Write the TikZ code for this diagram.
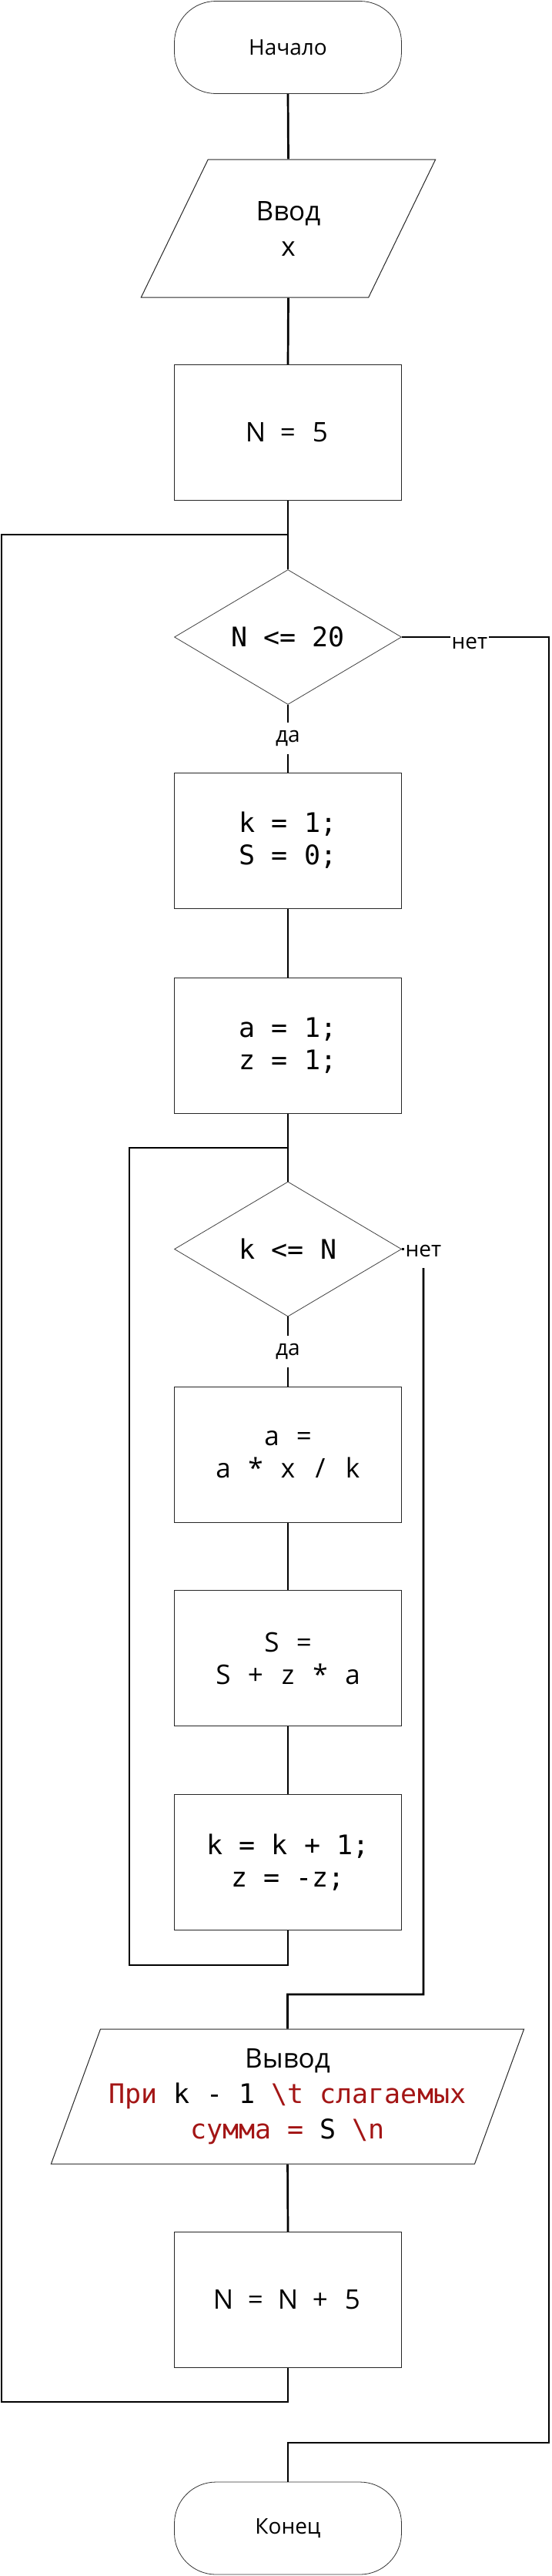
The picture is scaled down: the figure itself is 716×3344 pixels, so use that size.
\documentclass[tikz,border=0pt]{standalone}
\usepackage{fontspec}
\setmainfont{Open Sans}
\newfontfamily\codefont{DejaVu Sans Mono}
\usetikzlibrary{shapes.geometric}
\definecolor{strred}{HTML}{A31515}

% sans letters set on a fixed grid
\newcommand\gridtext[1]{\gridloop#1\relax}
\def\gridloop#1{\ifx#1\relax\else\makebox[21pt]{#1}\expandafter\gridloop\fi}

\tikzset{
  flow/.style={line width=2.7pt, black},
  term/.style={draw=black!80, line width=0.8pt, rounded corners=54pt,
    minimum width=295pt, minimum height=120pt, font=\fontsize{28}{34}\selectfont},
  proc/.style={draw=black!85, line width=1pt, minimum width=295pt,
    minimum height=176pt, align=center, font=\fontsize{35}{42}\selectfont},
  code/.style={font=\codefont\fontsize{35}{42}\selectfont},
  cond/.style={diamond, draw=black!75, line width=0.8pt, aspect=1.7,
    minimum width=295pt, minimum height=175pt, inner sep=0pt,
    font=\codefont\fontsize{35}{42}\selectfont},
  io/.style={trapezium, trapezium left angle=63.8, trapezium right angle=116.2,
    trapezium stretches=true, draw=black!85, line width=1pt, inner sep=0pt,
    align=center, font=\fontsize{35}{46}\selectfont},
  lbl/.style={fill=white, inner xsep=2pt, inner ysep=2pt, font=\fontsize{28}{34}\selectfont},
}

\begin{document}
\begin{tikzpicture}[x=1pt, y=-1pt]
  \useasboundingbox (0,0) rectangle (716,3344);

  \node[term] (start) at (374,61.5) {Начало};
  \node[io, minimum width=383pt, minimum height=179pt] (inp) at (374.5,296.5) {Ввод\\x};
  \node[proc] (n5) at (374,561.5) {\gridtext{N~=~5}};
  \node[cond] (dN) at (374,827) {N <= 20};
  \node[proc, code] (k1) at (374,1091) {k = 1;\\S = 0;};
  \node[proc, code] (a1) at (374,1357.5) {a = 1;\\z = 1;};
  \node[cond] (dk) at (374,1621.5) {k <= N};
  \node[proc] (ax) at (374,1888) {\gridtext{a~=}\\\gridtext{a~*~x~/~k}};
  \node[proc] (sz) at (374,2152.5) {\gridtext{S~=}\\\gridtext{S~+~z~*~a}};
  \node[proc, code] (kk) at (374,2417.5) {k = k + 1;\\z = -z;};
  \node[io, minimum width=619pt, minimum height=175pt] (out) at (373.5,2721.5)
    {Вывод\\{\codefont\textcolor{strred}{При} k - 1 \textcolor{strred}{\textbackslash t слагаемых}}\\
     {\codefont\textcolor{strred}{сумма =} S \textcolor{strred}{\textbackslash n}}};
  \node[proc] (nn5) at (374,2985.5) {\gridtext{N~=~N~+~5}};
  \node[term] (end) at (374,3282) {Конец};

  \coordinate (olt) at (374,694);
  \coordinate (olb) at (2,3118);
  \coordinate (ilt) at (374,1490);
  \coordinate (ilb) at (168,2551);
  \coordinate (nk) at (550,1622);
  \coordinate (ik) at (550,2589);
  \coordinate (oe) at (713,827);
  \coordinate (oe2) at (713,3171);

  \draw[flow] (start.south) -- (inp.north);
  \draw[flow] (inp.south) -- (n5.north);
  \draw[flow] (n5.south) -- (dN.north);
  \draw[flow] (dN.south) -- node[lbl, minimum height=41pt] {да} (k1.north);
  \draw[flow] (k1.south) -- (a1.north);
  \draw[flow] (a1.south) -- (dk.north);
  \draw[flow] (dk.south) -- node[lbl, minimum height=41pt] {да} (ax.north);
  \draw[flow] (ax.south) -- (sz.north);
  \draw[flow] (sz.south) -- (kk.north);
  \draw[flow] (out.south) -- (nn5.north);

  % loops back
  \draw[flow] (kk.south) |- (ilb) |- (ilt);
  \draw[flow] (nn5.south) |- (olb) |- (olt);

  % exits
  \draw[flow] (dk.east) -- (nk) -- (ik) -| (out.north);
  \node[lbl, minimum height=44pt] at ([yshift=-2pt]nk) {нет};
  \draw[flow] (dN.east) -- node[lbl, pos=0.46, yshift=-8pt] {нет} (oe) -- (oe2) -| (end.north);
\end{tikzpicture}
\end{document}
